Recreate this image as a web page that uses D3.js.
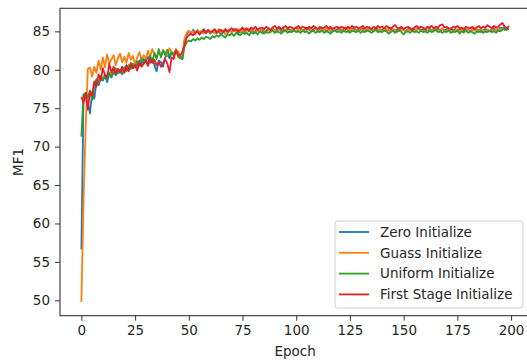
<!DOCTYPE html>
<html>
<head>
<meta charset="utf-8">
<script src="https://cdn.jsdelivr.net/npm/d3@7"></script>
<style>
  html, body { margin: 0; padding: 0; background: #fff; }
  svg { display: block; }
</style>
</head>
<body>
<div id="chart"></div>
<script>
// MF1 per epoch
const zeroInit = [
  56.6, 76.7, 76.4, 75.8, 74.3, 77.1, 76.2, 78.4, 78.0, 78.9,
  78.6, 79.2, 78.4, 79.5, 79.0, 79.7, 79.3, 80.1, 79.6, 80.4,
  80.0, 80.6, 79.9, 80.8, 80.3, 81.0, 80.5, 81.2, 80.7, 81.4,
  81.0, 81.7, 80.9, 81.5, 80.6, 79.8, 81.2, 81.0, 80.4, 81.6,
  82.0, 81.5, 82.3, 81.8, 82.6, 82.2, 81.6, 81.4, 83.8, 84.6,
  85.0, 84.7, 85.2, 84.9, 85.1, 84.6, 85.0, 85.3, 84.8, 85.1,
  84.7, 85.0, 85.2, 84.8, 85.0, 84.6, 84.9, 85.2, 84.8, 85.1,
  84.9, 85.3, 85.0, 84.7, 85.1, 85.2, 84.9, 85.3, 85.0, 85.2,
  84.9, 85.1, 85.3, 85.0, 85.2, 84.8, 85.1, 85.3, 85.0, 85.4,
  85.1, 85.2, 85.5, 85.0, 85.3, 85.1, 85.4, 85.2, 85.0, 85.3,
  85.5, 85.2, 85.4, 85.1, 85.3, 85.5, 85.2, 85.0, 85.3, 85.4,
  85.1, 85.3, 85.5, 85.2, 85.0, 85.3, 85.4, 85.1, 85.3, 85.2,
  85.4, 85.1, 85.3, 85.5, 85.2, 85.0, 85.3, 85.4, 85.1, 85.3,
  85.2, 85.4, 85.0, 85.3, 85.5, 85.2, 85.1, 85.4, 85.3, 85.0,
  85.2, 85.4, 85.1, 85.3, 85.5, 85.2, 85.0, 85.3, 85.1, 85.4,
  85.2, 85.0, 85.3, 85.4, 85.1, 85.3, 85.2, 85.5, 85.1, 85.3,
  85.0, 85.2, 85.4, 85.1, 85.3, 85.2, 85.4, 85.0, 85.3, 85.1,
  85.3, 85.2, 85.4, 85.1, 85.3, 85.0, 85.2, 85.4, 85.1, 85.3,
  85.2, 85.0, 85.3, 85.4, 85.1, 85.2, 84.9, 85.1, 85.3, 85.2,
  85.0, 85.2, 85.4, 85.1, 85.3, 85.5, 85.4, 85.2, 85.3, 85.4
];

const guassInit = [
  49.8, 63.0, 72.6, 80.1, 80.3, 79.1, 80.4, 79.6, 81.2, 80.0,
  81.6, 80.3, 82.0, 80.8, 81.4, 81.9, 80.6, 81.5, 82.1, 81.0,
  81.7, 80.9, 82.2, 81.3, 81.8, 80.7, 81.6, 82.3, 81.2, 81.9,
  81.4, 82.5, 81.6, 82.7, 82.0, 81.5, 82.4, 81.8, 82.6, 82.2,
  81.9, 82.8, 82.3, 82.0, 82.7, 82.4, 81.7, 81.6, 84.0, 84.8,
  85.1, 84.8, 85.0, 84.6, 85.2, 84.9, 85.1, 84.7, 85.0, 85.2,
  84.8, 85.1, 84.7, 85.0, 85.3, 84.9, 85.1, 84.6, 85.0, 85.2,
  84.8, 85.1, 85.0, 85.3, 84.9, 85.2, 84.7, 85.1, 85.3, 85.0,
  85.2, 84.9, 85.1, 85.0, 85.3, 85.1, 84.8, 85.2, 85.0, 85.3,
  85.1, 84.9, 85.2, 85.3, 85.0, 85.2, 85.1, 84.9, 85.3, 85.1,
  85.0, 85.3, 85.1, 85.2, 84.9, 85.2, 85.4, 85.1, 85.0, 85.3,
  85.2, 85.0, 85.3, 85.1, 85.4, 85.2, 85.0, 85.3, 85.2, 84.9,
  85.2, 85.3, 85.0, 85.2, 85.4, 85.1, 85.3, 85.0, 85.2, 85.1,
  85.3, 85.0, 85.2, 85.4, 85.1, 85.3, 85.0, 85.2, 85.1, 85.3,
  85.0, 85.2, 85.3, 85.1, 85.0, 85.3, 85.2, 84.9, 85.2, 85.1,
  85.3, 85.0, 85.2, 85.1, 85.4, 85.0, 85.2, 85.3, 85.1, 85.0,
  85.2, 85.3, 85.0, 85.2, 85.1, 85.3, 85.0, 85.2, 85.4, 85.1,
  85.0, 85.3, 85.2, 84.9, 85.1, 85.3, 85.0, 85.2, 84.8, 85.1,
  85.3, 85.0, 85.2, 85.1, 85.3, 85.0, 85.2, 85.1, 84.9, 85.2,
  85.0, 85.3, 85.1, 85.2, 85.4, 85.1, 85.3, 85.6, 85.2, 85.4
];

const uniformInit = [
  71.3, 76.8, 77.0, 76.4, 77.3, 76.1, 78.0, 78.8, 78.3, 79.2,
  78.7, 79.4, 78.9, 79.6, 79.1, 79.8, 80.2, 79.5, 80.0, 79.4,
  80.3, 79.8, 80.6, 80.1, 80.8, 80.3, 81.1, 80.5, 81.5, 80.8,
  81.3, 80.7, 81.8, 81.0, 82.2, 81.4, 82.7, 81.6, 82.5, 81.9,
  82.6, 81.8, 82.3, 82.0, 82.5, 81.7, 81.5, 81.4, 83.0, 83.6,
  83.8, 83.7, 84.0, 83.8, 84.1, 83.9, 84.2, 84.0, 84.3, 84.2,
  84.0, 84.4, 84.2, 84.5, 84.3, 84.6, 84.4, 84.2, 84.6, 84.5,
  84.7, 84.4, 84.8, 84.6, 84.5, 84.9, 84.7, 84.8, 84.5, 84.9,
  84.7, 84.9, 84.6, 85.0, 84.8, 84.7, 85.0, 84.8, 84.9, 85.1,
  84.8, 85.0, 84.9, 84.7, 85.0, 85.1, 84.8, 85.0, 84.9, 85.1,
  84.9, 85.0, 84.8, 85.1, 84.9, 85.0, 84.7, 85.0, 85.1, 84.8,
  85.0, 84.9, 85.1, 84.8, 85.0, 84.9, 84.7, 85.0, 85.1, 84.9,
  85.0, 84.8, 85.1, 84.9, 85.0, 84.8, 85.1, 85.0, 84.9, 85.1,
  84.8, 85.0, 84.9, 85.1, 85.0, 84.8, 85.0, 85.2, 84.9, 85.0,
  84.9, 85.1, 85.0, 84.7, 84.9, 85.1, 84.8, 85.0, 85.1, 84.9,
  84.6, 84.9, 85.0, 84.8, 85.1, 84.9, 85.0, 84.8, 85.1, 84.9,
  85.0, 84.8, 85.1, 84.9, 85.0, 85.2, 84.9, 85.0, 84.8, 85.0,
  84.9, 85.1, 84.8, 85.0, 84.9, 85.1, 84.7, 85.0, 84.9, 85.1,
  84.8, 85.0, 84.9, 84.7, 85.0, 84.9, 85.1, 84.8, 85.0, 84.9,
  85.1, 84.9, 85.0, 84.8, 85.1, 85.0, 85.2, 85.5, 85.2, 85.4
];

const firstStageInit = [
  76.5, 75.7, 77.0, 74.8, 77.2, 76.6, 78.5, 77.8, 79.4, 78.6,
  80.2, 79.3, 79.0, 80.8, 79.6, 80.4, 79.5, 80.1, 79.7, 80.3,
  79.6, 80.5, 79.8, 80.9, 80.2, 80.6, 79.9, 81.0, 80.4, 80.8,
  81.2, 80.5, 81.5, 80.9, 81.3, 80.6, 81.0, 80.4, 80.9, 81.4,
  80.8, 79.7, 81.6, 81.4, 82.5, 82.0, 81.8, 82.4, 83.2, 84.2,
  84.5, 84.7, 84.5, 84.8, 85.0, 84.6, 84.9, 85.1, 84.8, 85.2,
  84.9, 85.0, 85.3, 84.8, 85.1, 85.2, 84.9, 85.3, 85.0, 85.2,
  85.4, 85.1, 85.3, 85.0, 85.2, 85.5, 85.2, 85.4, 85.1, 85.5,
  85.3, 85.6, 85.2, 85.4, 85.5, 85.3, 85.6, 85.4, 85.2, 85.5,
  85.7, 85.4, 85.6, 85.3, 85.5, 85.7, 85.4, 85.6, 85.5, 85.3,
  85.5, 85.7, 85.4, 85.6, 85.5, 85.3, 85.6, 85.4, 85.7, 85.5,
  85.3, 85.6, 85.4, 85.5, 85.7, 85.4, 85.6, 85.3, 85.5, 85.6,
  85.4, 85.6, 85.5, 85.3, 85.6, 85.4, 85.7, 85.5, 85.6, 85.4,
  85.5, 85.7, 85.4, 85.6, 85.5, 85.3, 85.6, 85.4, 85.7, 85.5,
  85.6, 85.4, 85.7, 85.5, 85.3, 85.6, 85.8, 85.5, 85.4, 85.6,
  85.3, 85.5, 85.6, 85.4, 85.2, 85.5, 85.7, 85.4, 85.6, 85.5,
  85.3, 85.6, 85.5, 85.7, 85.4, 85.6, 85.5, 85.8, 85.9, 85.5,
  85.6, 85.4, 85.3, 85.6, 85.5, 85.7, 85.4, 85.5, 85.3, 85.6,
  85.5, 85.4, 85.6, 85.3, 85.5, 85.7, 85.4, 85.6, 85.5, 85.8,
  85.6, 85.4, 85.7, 85.5, 85.6, 85.9, 86.1, 85.6, 85.4, 85.7
];

const seriesNames = ['Zero Initialize', 'Guass Initialize', 'Uniform Initialize', 'First Stage Initialize'];
const seriesColors = ['#1f77b4', '#ff7f0e', '#2ca02c', '#ec1c24'];
const xTicks = [0, 25, 50, 75, 100, 125, 150, 175, 200];
const yTicks = [50, 55, 60, 65, 70, 75, 80, 85];

const series = [zeroInit, guassInit, uniformInit, firstStageInit];

const width = 527;
const height = 360;
// right edge of the axes falls just outside the picture, as in the reference
const margin = { top: 8.3, right: -3.3, bottom: 44.3, left: 60 };
const innerWidth = width - margin.left - margin.right;
const innerHeight = height - margin.top - margin.bottom;

const textColor = '#262626';
const spineColor = '#333333';
const fontFamily = '"DejaVu Sans", sans-serif';
const fontSize = 13.5;

const x = d3.scaleLinear().domain([-9.95, 208.95]).range([0, innerWidth]);
const y = d3.scaleLinear().domain([48.0, 88.0]).range([innerHeight, 0]);

const svg = d3
  .select('#chart')
  .append('svg')
  .attr('width', width)
  .attr('height', height)
  .style('background', '#ffffff');

const g = svg.append('g').attr('transform', `translate(${margin.left},${margin.top})`);

/* Lines */
const line = d3
  .line()
  .x((d, i) => x(i))
  .y((d) => y(d));

series.forEach((values, k) => {
  g.append('path')
    .datum(values)
    .attr('fill', 'none')
    .attr('stroke', seriesColors[k])
    .attr('stroke-width', 1.8)
    .attr('stroke-linejoin', 'round')
    .attr('d', line);
});

/* Axes */
const xAxis = g
  .append('g')
  .attr('transform', `translate(0,${innerHeight})`)
  .call(d3.axisBottom(x).tickValues(xTicks).tickSize(5).tickPadding(5));

const yAxis = g
  .append('g')
  .call(d3.axisLeft(y).tickValues(yTicks).tickSize(5).tickPadding(5));

[xAxis, yAxis].forEach((ax) => {
  ax.select('.domain').remove();
  ax.selectAll('line').attr('stroke', spineColor).attr('stroke-width', 1);
  ax.selectAll('text')
    .attr('fill', textColor)
    .style('font-family', fontFamily)
    .style('font-size', `${fontSize}px`);
});

/* Spines */
g.append('rect')
  .attr('x', 0)
  .attr('y', 0)
  .attr('width', innerWidth)
  .attr('height', innerHeight)
  .attr('fill', 'none')
  .attr('stroke', spineColor)
  .attr('stroke-width', 1.1);

/* Axis labels */
svg
  .append('text')
  .attr('x', margin.left + innerWidth / 2)
  .attr('y', 356)
  .attr('text-anchor', 'middle')
  .attr('fill', textColor)
  .style('font-family', fontFamily)
  .style('font-size', `${fontSize}px`)
  .text('Epoch');

svg
  .append('text')
  .attr('transform', `translate(22.5,${margin.top + innerHeight / 2}) rotate(-90)`)
  .attr('text-anchor', 'middle')
  .attr('fill', textColor)
  .style('font-family', fontFamily)
  .style('font-size', `${fontSize}px`)
  .text('MF1');

/* Legend */
const legend = svg.append('g').attr('transform', 'translate(335,221)');

legend
  .append('rect')
  .attr('width', 188)
  .attr('height', 87)
  .attr('rx', 3)
  .attr('fill', '#ffffff')
  .attr('fill-opacity', 0.8)
  .attr('stroke', '#d0d0d0');

legend
  .selectAll('g.legend-item')
  .data(seriesNames)
  .join('g')
  .attr('class', 'legend-item')
  .attr('transform', (_, i) => `translate(0,${11 + i * 20.8})`)
  .each(function (d, i) {
    const item = d3.select(this);
    item
      .append('line')
      .attr('x1', 4)
      .attr('x2', 34)
      .attr('stroke', seriesColors[i])
      .attr('stroke-width', 1.8);
    item
      .append('text')
      .attr('x', 45)
      .attr('y', 4.8)
      .attr('fill', textColor)
      .style('font-family', fontFamily)
      .style('font-size', `${fontSize}px`)
      .text(d);
  });
</script>
</body>
</html>
